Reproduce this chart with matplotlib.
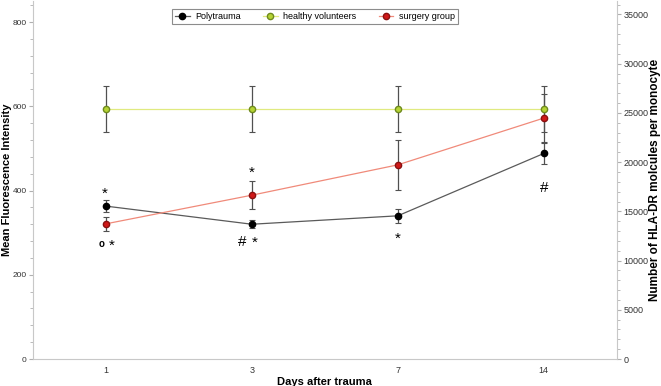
import matplotlib
matplotlib.use('Agg')
import matplotlib.pyplot as plt

plt.rcParams['font.family'] = ['Liberation Sans', 'DejaVu Sans']

# data
days = ['1', '3', '7', '14']
poly_mean = [363, 320, 340, 488]
poly_err = [14, 10, 16, 24]
healthy_mean = [593, 593, 593, 593]
healthy_err = [55, 55, 55, 55]
surgery_mean = [321, 389, 461, 572]
surgery_err = [17, 34, 60, 57]

# significance marks: (text, day index, y value)
marks = [('*', 0, 392), ('o', 0, 272), ('*', 0, 270), ('*', 1, 442),
         ('#', 1, 278), ('*', 1, 276), ('*', 2, 285), ('#', 3, 405)]
# horizontal nudge of each mark in points
mark_dx = [-1, -3, 4, 0, -7, 2, 0, 0]

x = list(range(len(days)))

fig = plt.figure(figsize=(6.61, 3.86), dpi=100)
ax = fig.add_axes([0.0499, 0.0699, 0.8831, 0.9275])

err_kw = dict(ecolor='#505050', elinewidth=0.9, capsize=2, capthick=0.8)
e1 = ax.errorbar(x, poly_mean, yerr=poly_err, color='#5a5a5a', lw=0.9, marker='o',
                 ms=4.5, mfc='black', mec='black', label='Polytrauma', zorder=3, **err_kw)
e2 = ax.errorbar(x, healthy_mean, yerr=healthy_err, color='#e0ea80', lw=0.9, marker='o',
                 ms=4.5, mfc='#b5d334', mec='#6e8a1e', label='healthy volunteers',
                 zorder=3, **err_kw)
e3 = ax.errorbar(x, surgery_mean, yerr=surgery_err, color='#f08a7a', lw=0.9, marker='o',
                 ms=4.5, mfc='#d01818', mec='#8a1010', label='surgery group',
                 zorder=3, **err_kw)

for (txt, i, yv), dx in zip(marks, mark_dx):
    fs = 7 if txt == 'o' else 11
    ax.annotate(txt, (x[i], yv), xytext=(dx, 0), textcoords='offset points',
                ha='center', va='center', fontsize=fs,
                fontweight='bold' if txt == 'o' else 'normal')

ax.set_xlim(-0.5, 3.5)
ax.set_ylim(0, 850)
ax.set_xticks(x)
ax.set_xticklabels(days)
ax.set_yticks([0, 200, 400, 600, 800])
ax.set_yticks(range(0, 850, 40), minor=True)
ax.tick_params(axis='x', length=0, labelsize=6.5, colors='#333333', pad=5)
ax.tick_params(axis='y', which='major', length=3, labelsize=6, color='#b0b0b0',
               labelcolor='#333333', pad=1.5)
ax.tick_params(axis='y', which='minor', length=2, color='#b0b0b0')
for s in ['top', 'right']:
    ax.spines[s].set_visible(False)
for s in ['left', 'bottom']:
    ax.spines[s].set_color('#c8c8c8')
ax.set_xlabel('Days after trauma', fontsize=8, fontweight='bold')
ax.xaxis.set_label_coords(0.5, -0.05)
ax.set_ylabel('Mean Fluorescence Intensity', fontsize=8, fontweight='bold')
ax.yaxis.set_label_coords(-0.036, 0.5)

ax2 = ax.twinx()
ax2.set_ylim(0, 36370)
ax2.set_yticks(range(0, 35001, 5000))
ax2.set_yticks(range(0, 36001, 1000), minor=True)
ax2.tick_params(axis='y', which='major', length=3, labelsize=6.5, color='#b0b0b0',
                labelcolor='#333333', pad=2)
ax2.tick_params(axis='y', which='minor', length=2, color='#b0b0b0')
for s in ['top', 'left', 'bottom']:
    ax2.spines[s].set_visible(False)
ax2.spines['right'].set_color('#c8c8c8')
ax2.set_ylabel('Number of HLA-DR molcules per monocyte', fontsize=8.5,
               fontweight='bold')
ax2.yaxis.set_label_coords(1.056, 0.5)

handles = [e1.lines[0], e2.lines[0], e3.lines[0]]
leg = ax.legend(handles, ['Polytrauma', 'healthy volunteers', 'surgery group'],
                loc='upper center', bbox_to_anchor=(0.483, 0.99), ncol=3,
                fontsize=6.5, frameon=True, fancybox=False, edgecolor='#707070',
                handlelength=1.6, columnspacing=2.5, borderpad=0.35, handletextpad=0.6)
leg.get_frame().set_linewidth(0.8)

fig.savefig('out.png', dpi=100)
